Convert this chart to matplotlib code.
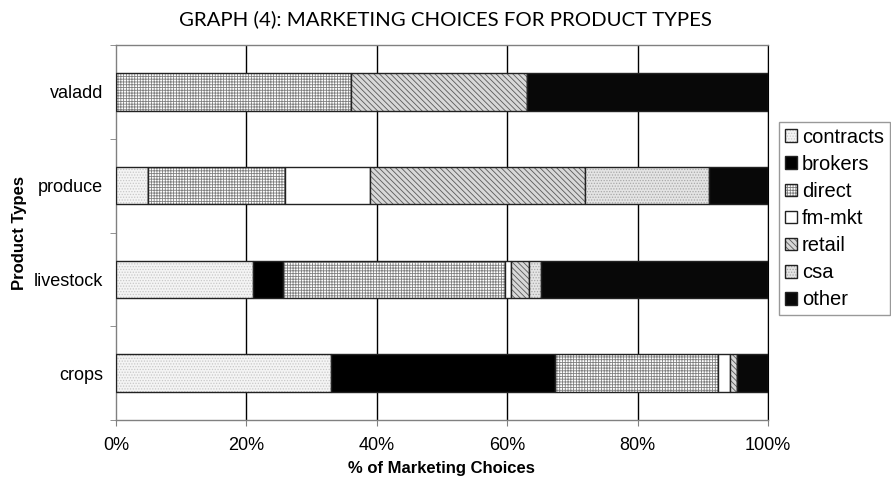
import matplotlib
matplotlib.use("Agg")
import matplotlib.pyplot as plt
import numpy as np

categories = ["crops", "livestock", "produce", "valadd"]
series = ["contracts", "brokers", "direct", "fm-mkt", "retail", "csa", "other"]
contracts = [33.0, 21.0, 5.0, 0.0]
brokers = [34.4, 4.7, 0.0, 0.0]
direct = [24.9, 34.0, 21.0, 36.0]
fm_mkt = [1.9, 0.9, 13.0, 0.0]
retail = [1.1, 2.8, 33.0, 27.0]
csa = [0.0, 1.8, 19.0, 0.0]
other = [4.7, 34.8, 9.0, 37.0]
values = [contracts, brokers, direct, fm_mkt, retail, csa, other]
xticks = [0, 20, 40, 60, 80, 100]
xticklabels = ["0%", "20%", "40%", "60%", "80%", "100%"]

styles = [
    dict(facecolor="#f4f4f4", hatch="......", hcolor="#c8c8c8"),
    dict(facecolor="#000000", hatch=None, hcolor="#000000"),
    dict(facecolor="#ffffff", hatch="++++++", hcolor="#808080"),
    dict(facecolor="#ffffff", hatch=None, hcolor="#000000"),
    dict(facecolor="#d8d8d8", hatch="\\\\\\\\\\\\", hcolor="#5a5a5a"),
    dict(facecolor="#e4e4e4", hatch="......", hcolor="#a8a8a8"),
    dict(facecolor="#080808", hatch=None, hcolor="#000000"),
]

plt.rcParams["font.family"] = ["Liberation Sans", "DejaVu Sans"]
plt.rcParams["hatch.linewidth"] = 0.6

fig = plt.figure(figsize=(8.91, 4.78), dpi=100)
ax = fig.add_axes([0.130, 0.121, 0.732, 0.785])

y = np.arange(len(categories))
left = np.zeros(len(categories))
handles = []
for name, vals, st in zip(series, values, styles):
    vals = np.array(vals)
    bars = ax.barh(y, vals, left=left, height=0.4, color=st["facecolor"],
                   edgecolor="#222222", linewidth=1.0, label=name, zorder=3)
    for b in bars:
        if st["hatch"]:
            b.set_hatch(st["hatch"])
            b._hatch_color = matplotlib.colors.to_rgba(st["hcolor"])
    left += vals
    handles.append(bars)

ax.set_xlim(0, 100)
ax.set_ylim(-0.5, len(categories) - 0.5)
ax.set_xticks(xticks)
ax.set_xticklabels(xticklabels, fontsize=13)
ax.set_yticks(y)
ax.set_yticklabels(categories, fontsize=13)
ax.tick_params(axis="y", length=0, pad=9)
ax.set_yticks(np.arange(-0.5, len(categories), 1.0), minor=True)
ax.tick_params(axis="y", which="minor", length=4, color="#808080", direction="out")
ax.tick_params(axis="x", length=4, color="#808080", direction="out", pad=8)

for xv in xticks[1:]:
    ax.axvline(xv, color="#000000", linewidth=1.0, zorder=1)

for s in ["left", "bottom", "top"]:
    ax.spines[s].set_color("#808080")
    ax.spines[s].set_linewidth(1.0)
ax.spines["right"].set_color("#000000")

ax.set_xlabel("% of Marketing Choices", fontsize=12, fontweight="bold", labelpad=5)
ax.set_ylabel("Product Types", fontsize=12, fontweight="bold", labelpad=5)

fig.text(0.5, 0.960, "GRAPH (4): MARKETING CHOICES FOR PRODUCT TYPES",
         ha="center", va="center", fontsize=14.7, family=["Lato", "DejaVu Sans"])

leg = fig.legend(handles=handles, labels=series, loc="upper left",
                 bbox_to_anchor=(0.874, 0.745), fontsize=14.5, frameon=True,
                 fancybox=False, edgecolor="#808080", handlelength=0.6,
                 handleheight=0.6, handletextpad=0.25, labelspacing=0.4,
                 borderpad=0.3, borderaxespad=0)
leg.get_frame().set_linewidth(1.0)

fig.savefig("out.png", dpi=100)
